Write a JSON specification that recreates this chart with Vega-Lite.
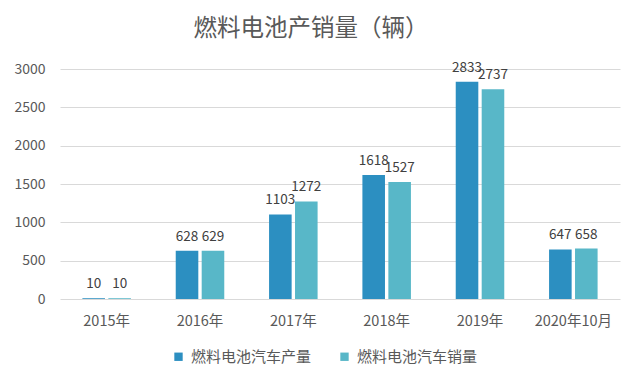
{
  "$schema": "https://vega.github.io/schema/vega-lite/v6.json",
  "width": 560,
  "height": 230,
  "autosize": {"type": "none"},
  "padding": {"left": 60, "top": 69, "right": 20, "bottom": 85},
  "background": "#ffffff",
  "config": {
    "view": {"stroke": null},
    "font": "Noto Sans CJK SC",
    "axis": {"labelFont": "Noto Sans CJK SC", "labelColor": "#595959", "labelFontSize": 13}
  },
  "title": {
    "text": "燃料电池产销量（辆）",
    "fontSize": 23.5,
    "font": "Noto Sans CJK SC",
    "fontWeight": "normal",
    "color": "#595959",
    "offset": 20,
    "dx": -29
  },
  "data": {
    "values": [
      {"year": "2015年", "series": "燃料电池汽车产量", "value": 10},
      {"year": "2015年", "series": "燃料电池汽车销量", "value": 10},
      {"year": "2016年", "series": "燃料电池汽车产量", "value": 628},
      {"year": "2016年", "series": "燃料电池汽车销量", "value": 629},
      {"year": "2017年", "series": "燃料电池汽车产量", "value": 1103},
      {"year": "2017年", "series": "燃料电池汽车销量", "value": 1272},
      {"year": "2018年", "series": "燃料电池汽车产量", "value": 1618},
      {"year": "2018年", "series": "燃料电池汽车销量", "value": 1527},
      {"year": "2019年", "series": "燃料电池汽车产量", "value": 2833},
      {"year": "2019年", "series": "燃料电池汽车销量", "value": 2737},
      {"year": "2020年10月", "series": "燃料电池汽车产量", "value": 647},
      {"year": "2020年10月", "series": "燃料电池汽车销量", "value": 658}
    ]
  },
  "encoding": {
    "x": {
      "field": "year", "type": "nominal", "sort": null, "title": null,
      "scale": {"paddingInner": 0.48, "paddingOuter": 0.24},
      "axis": {"labelAngle": 0, "domain": false, "ticks": false, "labelPadding": 15, "labelFontSize": 14.5}
    },
    "xOffset": {"field": "series", "type": "nominal", "scale": {"paddingInner": 0.13}},
    "y": {
      "field": "value", "type": "quantitative", "title": null,
      "scale": {"domain": [0, 3000]},
      "axis": {"values": [0, 500, 1000, 1500, 2000, 2500, 3000], "format": "d", "domain": false, "ticks": false, "labelPadding": 15, "gridColor": "#d9d9d9", "labelFontSize": 14}
    }
  },
  "layer": [
    {
      "mark": {"type": "bar"},
      "encoding": {
        "color": {
          "field": "series", "type": "nominal",
          "scale": {"domain": ["燃料电池汽车产量", "燃料电池汽车销量"], "range": ["#2C8FC1", "#58B7C8"]},
          "legend": {
            "title": null, "orient": "none", "direction": "horizontal",
            "legendX": 111, "legendY": 280,
            "symbolType": "square", "symbolSize": 70, "symbolStrokeWidth": 0,
            "labelFontSize": 15, "labelColor": "#595959", "labelFont": "Noto Sans CJK SC",
            "columnPadding": 25, "labelOffset": 5
          }
        }
      }
    },
    {
      "mark": {"type": "text", "baseline": "bottom", "dy": -7, "fontSize": 13.5, "color": "#404040", "font": "Noto Sans CJK SC"},
      "encoding": {"text": {"field": "value", "type": "quantitative"}}
    }
  ]
}
